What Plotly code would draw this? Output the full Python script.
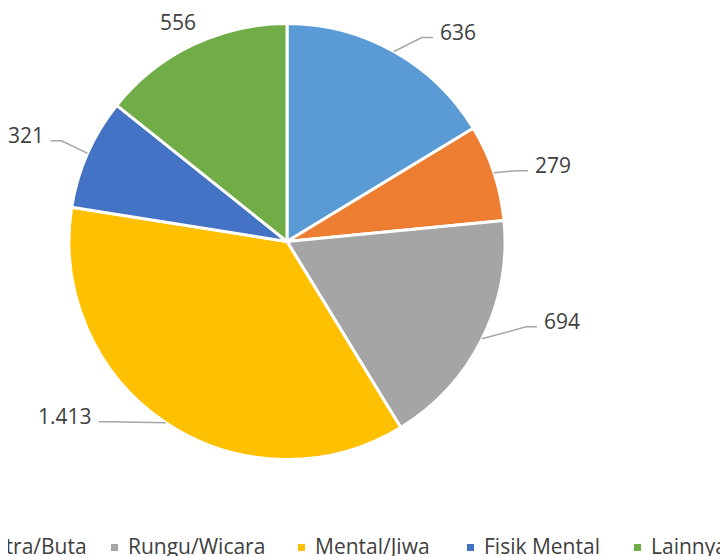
import math
import plotly.graph_objects as go

# ---- data ----
categories = ["Fisik", "Netra/Buta", "Rungu/Wicara", "Mental/Jiwa", "Fisik Mental", "Lainnya"]
values = [636, 279, 694, 1413, 321, 556]
value_labels = ["636", "279", "694", "1.413", "321", "556"]
colors = ["#5B9BD5", "#ED7D31", "#A5A5A5", "#FFC000", "#4472C4", "#70AD47"]

# ---- layout constants (pixels, page coordinates) ----
W, H = 728, 556
OFF = 8  # page body margin
CX, CY, R = 287 - OFF, 241.5 - OFF, 218
TEXT = "#404040"
FONT = "Open Sans"
FS = 21
# label text anchor offset from slice-edge point at mid angle
label_offsets = [(44, -20), (39, -8), (60, -18), (-72, -7), (-42, -18.5), (-15, -23)]
label_leader = [True, True, True, True, True, False]
# legend text left x positions
legend_text_x = [v - OFF for v in [-200, -24.5, 126, 313, 482, 649]]
LEG_Y = 546 - OFF


def px(x):
    return x / W


def py(y):
    return 1 - y / H


fig = go.Figure()
fig.add_trace(go.Pie(
    labels=categories, values=values, sort=False, direction="clockwise", rotation=0,
    marker=dict(colors=colors, line=dict(color="white", width=3)),
    textinfo="none", hoverinfo="label+value", showlegend=False,
    domain=dict(x=[px(CX - R), px(CX + R)], y=[py(CY + R), py(CY - R)]),
))

total = sum(values)
annotations = []
shapes = []
cum = 0
for i, v in enumerate(values):
    mid = (cum + v / 2) / total * 2 * math.pi
    cum += v
    ex = CX + R * math.sin(mid)
    ey = CY - R * math.cos(mid)
    dx, dy = label_offsets[i]
    tx, ty = ex + dx, ey + dy
    if not label_leader[i]:
        anchor = "center"
    elif dx > 0:
        anchor = "left"
    else:
        anchor = "right"
    annotations.append(dict(
        x=px(tx), y=py(ty), xref="paper", yref="paper", text=value_labels[i],
        showarrow=False, xanchor=anchor, yanchor="middle",
        font=dict(family=FONT, size=FS, color=TEXT),
    ))
    if label_leader[i]:
        s = 1 if dx > 0 else -1
        endx, endy = tx - s * 5, ty + 6
        elx = endx - s * 11
        path = f"M {px(ex)},{py(ey)} L {px(elx)},{py(endy)} L {px(endx)},{py(endy)}"
        shapes.append(dict(type="path", path=path, xref="paper", yref="paper",
                           line=dict(color="#A6A6A6", width=1.5)))

# legend
for i, name in enumerate(categories):
    x0 = legend_text_x[i]
    shapes.append(dict(type="rect", xref="paper", yref="paper",
                       x0=px(x0 - 15), x1=px(x0 - 8), y0=py(LEG_Y + 5), y1=py(LEG_Y - 2),
                       fillcolor=colors[i], line=dict(width=0)))
    annotations.append(dict(
        x=px(x0), y=py(LEG_Y), xref="paper", yref="paper", text=name,
        showarrow=False, xanchor="left", yanchor="middle",
        font=dict(family=FONT, size=FS, color=TEXT),
    ))

fig.update_layout(
    width=W, height=H, margin=dict(l=0, r=0, t=0, b=0),
    paper_bgcolor="white", plot_bgcolor="white",
    annotations=annotations, shapes=shapes, showlegend=False,
)
fig.write_html("out.html")
